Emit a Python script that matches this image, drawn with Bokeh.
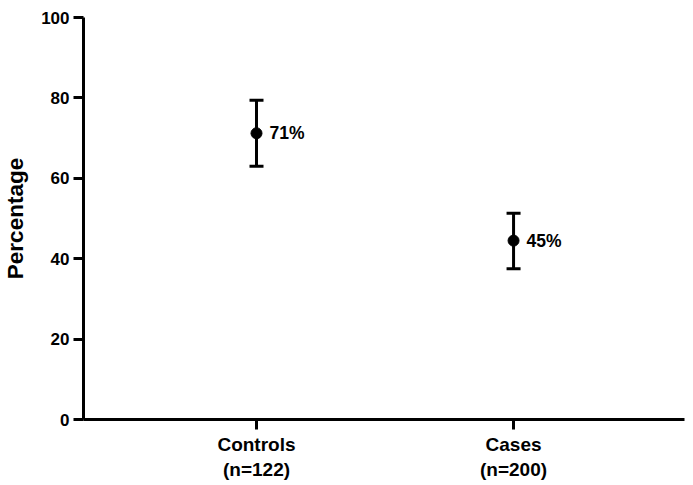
from bokeh.plotting import figure
from bokeh.models import ColumnDataSource, Whisker, TeeHead, FixedTicker, Range1d
from bokeh.embed import file_html
from bokeh.resources import INLINE
from bokeh.core.properties import value

groups = ["Controls", "Cases"]
group_n = [122, 200]
pct = [71.2, 44.5]
lower = [63.0, 37.5]
upper = [79.4, 51.3]
pct_labels = ["71%", "45%"]
y_ticks = [0, 20, 40, 60, 80, 100]

xs = [i + 1 for i in range(len(groups))]
src = ColumnDataSource(dict(x=xs, pct=pct, lower=lower, upper=upper, lab=pct_labels))

FONT = "Liberation Sans"

p = figure(frame_width=601, frame_height=402, output_backend="svg", toolbar_location=None,
           x_range=Range1d(0.327, 2.665), y_range=Range1d(0, 100),
           min_border_left=82, min_border_right=5, min_border_top=17, min_border_bottom=64)
p.outline_line_color = None
p.xgrid.visible = False
p.ygrid.visible = False
p.background_fill_color = "white"

w = Whisker(base="x", upper="upper", lower="lower", source=src,
            line_width=3, line_color="black",
            upper_head=TeeHead(size=14, line_width=3, line_color="black"),
            lower_head=TeeHead(size=14, line_width=3, line_color="black"))
p.add_layout(w)

p.scatter("x", "pct", source=src, size=11, color="black")
p.text("x", "pct", text="lab", source=src, x_offset=13, text_baseline="middle",
       text_align="left", text_font=value(FONT), text_font_style="bold",
       text_font_size="17.5px", text_color="black")

for ax in (p.xaxis[0], p.yaxis[0]):
    ax.axis_line_width = 3
    ax.axis_line_color = "black"
    ax.major_tick_line_width = 3
    ax.major_tick_out = 10
    ax.major_tick_in = 0
    ax.minor_tick_line_color = None
    ax.major_label_text_font = FONT
    ax.major_label_text_font_style = "bold"
    ax.major_label_text_color = "black"

p.yaxis[0].ticker = FixedTicker(ticks=y_ticks)
p.yaxis[0].major_label_text_font_size = "17px"
p.yaxis[0].major_label_standoff = 4
p.yaxis[0].axis_label = "Percentage"
p.yaxis[0].axis_label_text_font = FONT
p.yaxis[0].axis_label_text_font_style = "bold"
p.yaxis[0].axis_label_text_font_size = "22.5px"
p.yaxis[0].axis_label_text_color = "black"
p.yaxis[0].axis_label_standoff = 10

p.xaxis[0].ticker = FixedTicker(ticks=xs)
p.xaxis[0].major_label_overrides = {x: f"{g}\n(n={n})" for x, g, n in zip(xs, groups, group_n)}
p.xaxis[0].major_label_text_font_size = "19px"
p.xaxis[0].major_label_standoff = 4
p.xaxis[0].major_label_text_line_height = 1.2

open("out.html", "w").write(file_html(p, INLINE))
